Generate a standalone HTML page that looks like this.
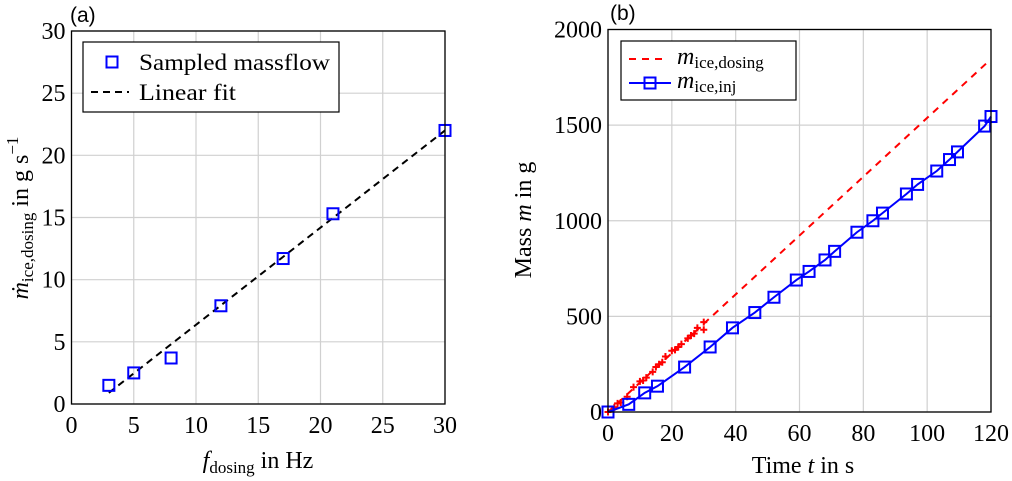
<!DOCTYPE html>
<html><head><meta charset="utf-8"><style>
body{margin:0;background:#fff;}
svg{display:block;font-family:"Liberation Serif",serif;}
</style></head><body>
<svg id="chart" width="1012" height="481" viewBox="0 0 1012 481" xmlns="http://www.w3.org/2000/svg">
<g id="pa"></g>
<g id="pb"></g>
</svg>
<script>
// Panel (a) data
const aFreq = [3, 5, 8, 12, 17, 21, 30];
const aMassflow = [1.5, 2.5, 3.7, 7.9, 11.7, 15.3, 22.0];
const aFitX = [3, 30];
const aFitY = [0.9, 22.0];
const aTicks = [0, 5, 10, 15, 20, 25, 30];
// Panel (b) data
const bDoseT = [0, 119];
const bDoseM = [0, 1830];
const bCrossT = [0, 2, 3, 4, 6, 8, 10, 11, 12, 14, 15, 16, 17, 18, 20, 21, 22, 23, 25, 26, 27, 28, 30, 30];
const bCrossM = [0, 25, 45, 50, 80, 130, 160, 165, 180, 210, 235, 250, 260, 290, 320, 325, 340, 355, 385, 400, 410, 440, 430, 470];
const bInjT = [0, 6.5, 11.5, 15.5, 24, 32, 39, 46, 52, 59, 63, 68, 71, 78, 83, 86, 93.5, 97, 103, 107, 109.5, 118, 120];
const bInjM = [0, 40, 100, 135, 235, 340, 440, 520, 600, 690, 735, 795, 840, 940, 1000, 1040, 1140, 1190, 1260, 1320, 1360, 1495, 1545];
const bXTicks = [0, 20, 40, 60, 80, 100, 120];
const bYTicks = [0, 500, 1000, 1500, 2000];

const NS = "http://www.w3.org/2000/svg";
function mk(parent, tag, attrs, text){
  const e = document.createElementNS(NS, tag);
  for (const k in attrs) e.setAttribute(k, attrs[k]);
  if (text !== undefined) e.textContent = text;
  parent.appendChild(e);
  return e;
}
function lin(d0,d1,r0,r1){return v=>r0+(v-d0)/(d1-d0)*(r1-r0);}

function axesFrame(g, X, Y, xt, yt, x0,x1,y0,y1){
  xt.forEach(v=>{
    const l=mk(g,'line',{x1:X(v),x2:X(v),y1:y0,y2:y1,stroke:'#d0d0d0','stroke-width':1.2});
    
    
    const t=mk(g,'text',{x:X(v),y:y1+29,'font-size':24,'text-anchor':'middle'},String(v));
    
    
  });
  yt.forEach(v=>{
    const l=mk(g,'line',{x1:x0,x2:x1,y1:Y(v),y2:Y(v),stroke:'#d0d0d0','stroke-width':1.2});
    
    
    const t=mk(g,'text',{x:x0-6,y:Y(v)+8,'font-size':24,'text-anchor':'end'},String(v));
    
    
  });
}
function frame(g,x0,x1,y0,y1){
  const r=mk(g,'rect',{x:x0,y:y0,width:x1-x0,height:y1-y0,fill:'none',stroke:'#000','stroke-width':1.3});
  
  
}
function square(g,x,y,name){
  const s=mk(g,'rect',{x:x-5.5,y:y-5.5,width:11,height:11,fill:'none',stroke:'#0000ff','stroke-width':2});
  
  
}

// Panel A
(function(){
  const g=document.getElementById('pa');
  const x0=71.5,x1=445,y0=31,y1=404;
  const X=lin(0,30,x0,x1), Y=lin(0,30,y1,y0);
  axesFrame(g,X,Y,aTicks,aTicks,x0,x1,y0,y1);
  const fit=mk(g,'line',{x1:X(aFitX[0]),y1:Y(aFitY[0]),x2:X(aFitX[1]),y2:Y(aFitY[1]),stroke:'#000','stroke-width':2,'stroke-dasharray':'7,5'});
  
  
  aFreq.forEach((f,i)=>square(g,X(f),Y(aMassflow[i]),'sampled-massflow-point'));
  frame(g,x0,x1,y0,y1);
  const lg=mk(g,'g',{});
  
  
  mk(lg,'rect',{x:83,y:42,width:256,height:70,fill:'#fff',stroke:'#000','stroke-width':1.2});
  square(lg,112,62,'legend-marker-sampled');
  mk(lg,'text',{x:139,y:70,'font-size':23,textLength:191,lengthAdjust:'spacingAndGlyphs'},'Sampled massflow');
  mk(lg,'line',{x1:91,x2:129,y1:92,y2:92,stroke:'#000','stroke-width':2,'stroke-dasharray':'7,5'});
  mk(lg,'text',{x:139,y:100,'font-size':23,textLength:97,lengthAdjust:'spacingAndGlyphs'},'Linear fit');
  const xl=mk(g,'text',{x:258,y:468,'font-size':24,'text-anchor':'middle'});
  
  
  xl.innerHTML='<tspan font-style="italic">f</tspan><tspan font-size="17" dy="5">dosing</tspan><tspan dy="-5"> in Hz</tspan>';
  const yl=mk(g,'text',{transform:'translate(28,218) rotate(-90)','font-size':24,'text-anchor':'middle'});
  
  
  yl.innerHTML='<tspan font-style="italic">ṁ</tspan><tspan font-size="17" dy="5">ice,dosing</tspan><tspan dy="-5"> in g s</tspan><tspan font-size="17" dy="-10">−1</tspan>';
  const p=mk(g,'text',{x:70,y:22,'font-size':21,'font-family':'Liberation Sans, sans-serif'},'(a)');
  
  
})();

// Panel B
(function(){
  const g=document.getElementById('pb');
  const x0=608,x1=991,y0=29.5,y1=412;
  const X=lin(0,120,x0,x1), Y=lin(0,2000,y1,y0);
  axesFrame(g,X,Y,bXTicks,bYTicks,x0,x1,y0,y1);
  const d=mk(g,'line',{x1:X(bDoseT[0]),y1:Y(bDoseM[0]),x2:X(bDoseT[1]),y2:Y(bDoseM[1]),stroke:'#ff0000','stroke-width':2,'stroke-dasharray':'7,6'});
  
  
  bCrossT.forEach((t,i)=>{
    const cx=X(t),cy=Y(bCrossM[i]);
    const c=mk(g,'path',{d:`M${cx-3.5},${cy}H${cx+3.5}M${cx},${cy-3.5}V${cy+3.5}`,stroke:'#ff0000','stroke-width':2});
    
    
  });
  const pl=mk(g,'polyline',{points:bInjT.map((t,i)=>X(t)+','+Y(bInjM[i])).join(' '),fill:'none',stroke:'#0000ff','stroke-width':2});
  
  
  bInjT.forEach((t,i)=>square(g,X(t),Y(bInjM[i]),'injected-mass-point'));
  frame(g,x0,x1,y0,y1);
  const lg=mk(g,'g',{});
  
  
  mk(lg,'rect',{x:621,y:41,width:175,height:59,fill:'#fff',stroke:'#000','stroke-width':1.2});
  mk(lg,'line',{x1:629,x2:667,y1:59,y2:59,stroke:'#ff0000','stroke-width':2,'stroke-dasharray':'7,6'});
  const t1=mk(lg,'text',{x:677,y:64,'font-size':24});
  t1.innerHTML='<tspan font-style="italic">m</tspan><tspan font-size="17" dy="4">ice,dosing</tspan>';
  mk(lg,'line',{x1:629,x2:671,y1:83,y2:83,stroke:'#0000ff','stroke-width':2});
  square(lg,650,83,'legend-marker-injected');
  const t2=mk(lg,'text',{x:677,y:88,'font-size':24});
  t2.innerHTML='<tspan font-style="italic">m</tspan><tspan font-size="17" dy="4">ice,inj</tspan>';
  const xl=mk(g,'text',{x:803,y:473,'font-size':24,'text-anchor':'middle'});
  
  
  xl.innerHTML='Time <tspan font-style="italic">t</tspan> in s';
  const yl=mk(g,'text',{transform:'translate(531,220) rotate(-90)','font-size':24,'text-anchor':'middle'});
  
  
  yl.innerHTML='Mass <tspan font-style="italic">m</tspan> in g';
  const p=mk(g,'text',{x:610,y:20,'font-size':21,'font-family':'Liberation Sans, sans-serif'},'(b)');
  
  
})();
</script>
</body></html>
